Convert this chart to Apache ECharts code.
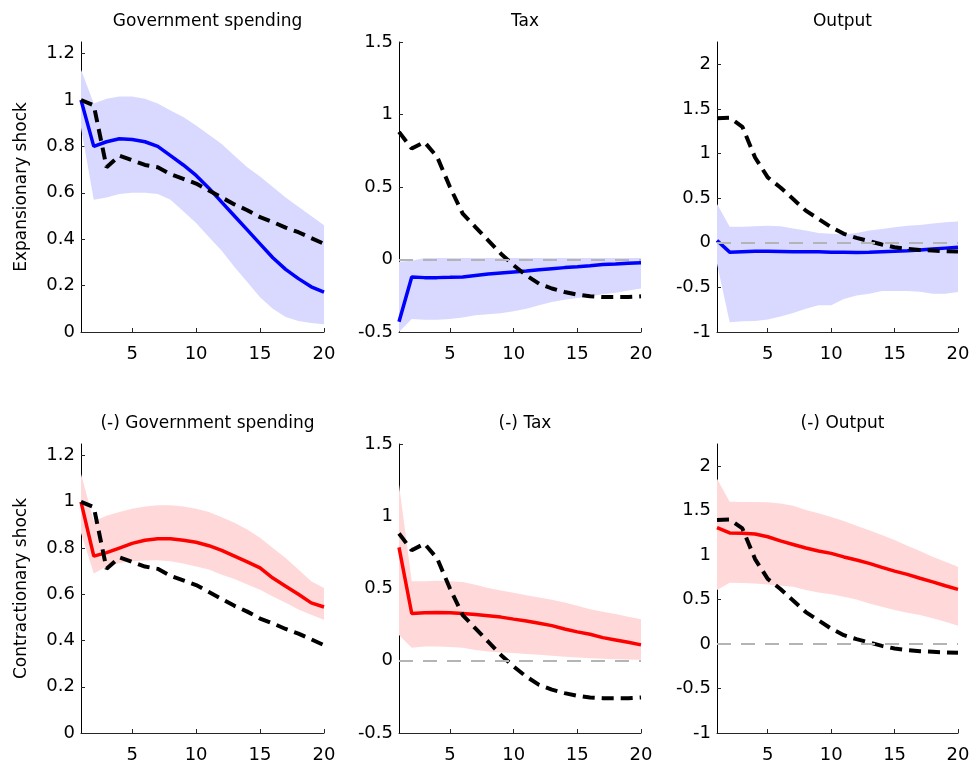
<!DOCTYPE html>
<html>
<head>
<meta charset="utf-8">
<script src="https://cdn.jsdelivr.net/npm/echarts@6/dist/echarts.min.js"></script>
<style>
  html, body { margin: 0; padding: 0; background: #fff; }
  #chart { width: 973px; height: 767px; }
</style>
</head>
<body>
<div id="chart"></div>
<script>
// horizon (quarters)
const steps = [1, 2, 3, 4, 5, 6, 7, 8, 9, 10, 11, 12, 13, 14, 15, 16, 17, 18, 19, 20];

// black dashed benchmark responses (same in both rows)
const govBench = [1.0, 0.977, 0.71, 0.76, 0.74, 0.72, 0.71, 0.68, 0.66, 0.64, 0.61, 0.58, 0.55, 0.525, 0.495, 0.474, 0.45, 0.43, 0.405, 0.38];
const taxBench = [0.88, 0.765, 0.81, 0.707, 0.5, 0.316, 0.224, 0.132, 0.04, -0.04, -0.11, -0.167, -0.2, -0.224, -0.242, -0.254, -0.259, -0.259, -0.259, -0.254];
const outBench = [1.395, 1.4, 1.3, 0.956, 0.733, 0.62, 0.49, 0.36, 0.267, 0.174, 0.1, 0.055, 0.018, -0.02, -0.05, -0.068, -0.08, -0.087, -0.094, -0.098];

// expansionary shock (blue)
const govExp = [1.0, 0.8, 0.82, 0.833, 0.83, 0.82, 0.8, 0.76, 0.72, 0.675, 0.62, 0.56, 0.5, 0.44, 0.38, 0.32, 0.27, 0.23, 0.195, 0.172];
const govExpHi = [1.13, 0.985, 1.005, 1.015, 1.015, 1.005, 0.985, 0.955, 0.927, 0.89, 0.85, 0.81, 0.76, 0.71, 0.67, 0.625, 0.58, 0.54, 0.5, 0.46];
const govExpLo = [0.88, 0.57, 0.58, 0.595, 0.6, 0.6, 0.595, 0.57, 0.52, 0.47, 0.41, 0.35, 0.28, 0.215, 0.15, 0.1, 0.065, 0.047, 0.039, 0.033];

const taxExp = [-0.43, -0.12, -0.125, -0.125, -0.123, -0.12, -0.11, -0.1, -0.093, -0.086, -0.08, -0.07, -0.063, -0.056, -0.05, -0.043, -0.035, -0.031, -0.026, -0.022];
const taxExpHi = [-0.015, -0.008, 0.01, 0.01, 0.01, 0.01, 0.01, 0.01, 0.01, 0.01, 0.01, 0.01, 0.01, 0.01, 0.01, 0.01, 0.01, 0.01, 0.01, 0.01];
const taxExpLo = [-0.5, -0.41, -0.415, -0.415, -0.41, -0.4, -0.385, -0.378, -0.37, -0.357, -0.34, -0.316, -0.293, -0.277, -0.265, -0.254, -0.24, -0.229, -0.213, -0.2];

const outExp = [0.025, -0.105, -0.1, -0.095, -0.095, -0.097, -0.1, -0.1, -0.102, -0.105, -0.107, -0.11, -0.107, -0.1, -0.095, -0.09, -0.08, -0.07, -0.06, -0.05];
const outExpHi = [0.435, 0.18, 0.18, 0.185, 0.19, 0.185, 0.16, 0.137, 0.11, 0.1, 0.092, 0.11, 0.137, 0.155, 0.174, 0.19, 0.2, 0.215, 0.23, 0.237];
const outExpLo = [-0.236, -0.89, -0.88, -0.877, -0.86, -0.825, -0.787, -0.74, -0.7, -0.7, -0.63, -0.59, -0.57, -0.54, -0.54, -0.54, -0.55, -0.57, -0.57, -0.553];

// contractionary shock (red, sign flipped)
const govCon = [1.0, 0.765, 0.78, 0.8, 0.82, 0.834, 0.84, 0.84, 0.834, 0.825, 0.81, 0.79, 0.765, 0.74, 0.714, 0.67, 0.635, 0.6, 0.563, 0.545];
const govConHi = [1.12, 0.916, 0.94, 0.956, 0.97, 0.98, 0.985, 0.985, 0.98, 0.97, 0.956, 0.933, 0.909, 0.88, 0.844, 0.8, 0.757, 0.707, 0.656, 0.627];
const govConLo = [0.865, 0.69, 0.72, 0.735, 0.743, 0.746, 0.747, 0.743, 0.733, 0.72, 0.707, 0.685, 0.666, 0.642, 0.62, 0.59, 0.563, 0.534, 0.512, 0.49];

const taxCon = [0.785, 0.327, 0.332, 0.334, 0.332, 0.327, 0.32, 0.311, 0.302, 0.288, 0.275, 0.259, 0.243, 0.22, 0.2, 0.183, 0.16, 0.144, 0.128, 0.11];
const taxConHi = [1.22, 0.55, 0.55, 0.554, 0.55, 0.545, 0.526, 0.503, 0.487, 0.47, 0.453, 0.437, 0.423, 0.403, 0.38, 0.357, 0.339, 0.323, 0.304, 0.288];
const taxConLo = [0.178, 0.09, 0.098, 0.098, 0.096, 0.09, 0.075, 0.064, 0.057, 0.053, 0.046, 0.041, 0.034, 0.027, 0.023, 0.018, 0.014, 0.011, 0.009, 0.007];

const outCon = [1.31, 1.25, 1.245, 1.237, 1.207, 1.16, 1.12, 1.08, 1.046, 1.02, 0.98, 0.945, 0.907, 0.862, 0.82, 0.784, 0.74, 0.7, 0.656, 0.615];
const outConHi = [1.86, 1.6, 1.597, 1.597, 1.594, 1.58, 1.556, 1.507, 1.47, 1.43, 1.383, 1.33, 1.28, 1.226, 1.17, 1.106, 1.046, 0.982, 0.926, 0.87];
const outConLo = [0.607, 0.69, 0.686, 0.68, 0.67, 0.656, 0.645, 0.607, 0.58, 0.56, 0.532, 0.5, 0.457, 0.42, 0.382, 0.352, 0.326, 0.29, 0.25, 0.206];

// tick labels
const xTicks = [5, 10, 15, 20];
const govTicks = [0, 0.2, 0.4, 0.6, 0.8, 1, 1.2];
const taxTicks = [-0.5, 0, 0.5, 1, 1.5];
const outTicks = [-1, -0.5, 0, 0.5, 1, 1.5, 2];

const titles = ['Government spending', 'Tax', 'Output', '(-) Government spending', '(-) Tax', '(-) Output'];
const rowNames = ['Expansionary shock', 'Contractionary shock'];

const FONT = 'DejaVu Sans, sans-serif';
const colLeft = [81, 399, 717];
const colWidth = [243, 242, 241];
const rowTop = [42, 444];
const rowHeight = [290, 289];

const panels = [
  { mid: govExp, hi: govExpHi, lo: govExpLo, bench: govBench, ticks: govTicks, min: 0, max: 1.25, zero: false, color: '#0000ff', band: '#d9d9ff' },
  { mid: taxExp, hi: taxExpHi, lo: taxExpLo, bench: taxBench, ticks: taxTicks, min: -0.5, max: 1.5, zero: true, color: '#0000ff', band: '#d9d9ff' },
  { mid: outExp, hi: outExpHi, lo: outExpLo, bench: outBench, ticks: outTicks, min: -1, max: 2.25, zero: true, color: '#0000ff', band: '#d9d9ff' },
  { mid: govCon, hi: govConHi, lo: govConLo, bench: govBench, ticks: govTicks, min: 0, max: 1.25, zero: false, color: '#ff0000', band: '#ffd9d9' },
  { mid: taxCon, hi: taxConHi, lo: taxConLo, bench: taxBench, ticks: taxTicks, min: -0.5, max: 1.5, zero: true, color: '#ff0000', band: '#ffd9d9' },
  { mid: outCon, hi: outConHi, lo: outConLo, bench: outBench, ticks: outTicks, min: -1, max: 2.25, zero: true, color: '#ff0000', band: '#ffd9d9' }
];

const onTick = (idx) => xTicks.indexOf(steps[idx]) >= 0;

const grid = [], xAxis = [], yAxis = [], series = [], title = [];

panels.forEach((p, k) => {
  const row = Math.floor(k / 3), col = k % 3;
  grid.push({ left: colLeft[col], top: rowTop[row], width: colWidth[col], height: rowHeight[row] });

  title.push({
    text: titles[k],
    left: colLeft[col] + colWidth[col] / 2,
    top: rowTop[row] - 34,
    textAlign: 'center',
    textStyle: { fontFamily: FONT, fontSize: 17, fontWeight: 'normal', color: '#000' }
  });

  xAxis.push({
    type: 'category', gridIndex: k, data: steps, boundaryGap: false,
    axisLine: { onZero: false, lineStyle: { color: '#262626', width: 1 } },
    axisTick: { inside: true, length: 4, interval: onTick, lineStyle: { color: '#262626' } },
    axisLabel: { interval: onTick, margin: 13, fontFamily: FONT, fontSize: 18, color: '#000' },
    splitLine: { show: false }
  });

  yAxis.push({
    type: 'value', gridIndex: k, min: p.min, max: p.max,
    name: col === 0 ? rowNames[row] : '',
    nameLocation: 'middle', nameGap: 51,
    nameTextStyle: { fontFamily: FONT, fontSize: 17, color: '#000' },
    axisLine: { show: true, lineStyle: { color: '#000', width: 1 } },
    axisTick: { show: true, inside: true, length: 4, customValues: p.ticks, lineStyle: { color: '#262626' } },
    axisLabel: { customValues: p.ticks, margin: 6, fontFamily: FONT, fontSize: 18, color: '#000' },
    splitLine: { show: false }
  });

  if (p.zero) {
    series.push({
      type: 'line', xAxisIndex: k, yAxisIndex: k, data: [], z: 1, silent: true,
      markLine: {
        symbol: 'none', silent: true, label: { show: false },
        lineStyle: { color: '#b4b4b4', width: 2, type: [14, 10] },
        data: [{ yAxis: 0 }]
      }
    });
  }

  // confidence band as stacked area: lower edge + width
  series.push({
    type: 'line', xAxisIndex: k, yAxisIndex: k, z: 2, clip: true,
    stack: 'band' + k, stackStrategy: 'all',
    data: p.lo, symbol: 'none', lineStyle: { opacity: 0 }, silent: true
  });
  series.push({
    type: 'line', xAxisIndex: k, yAxisIndex: k, z: 2, clip: true,
    stack: 'band' + k, stackStrategy: 'all',
    data: p.hi.map((v, i) => v - p.lo[i]),
    symbol: 'none', lineStyle: { opacity: 0 }, silent: true,
    areaStyle: { color: p.band, opacity: 1 }
  });

  series.push({
    type: 'line', xAxisIndex: k, yAxisIndex: k, z: 3, clip: true,
    data: p.mid, symbol: 'none',
    lineStyle: { color: p.color, width: 3.5 }
  });
  series.push({
    type: 'line', xAxisIndex: k, yAxisIndex: k, z: 4, clip: true,
    data: p.bench, symbol: 'none',
    lineStyle: { color: '#000', width: 4, type: [12, 7] }
  });
});

const chart = echarts.init(document.getElementById('chart'), null, { renderer: 'canvas' });
chart.setOption({
  animation: false,
  backgroundColor: '#fff',
  title, grid, xAxis, yAxis, series
});
</script>
</body>
</html>
